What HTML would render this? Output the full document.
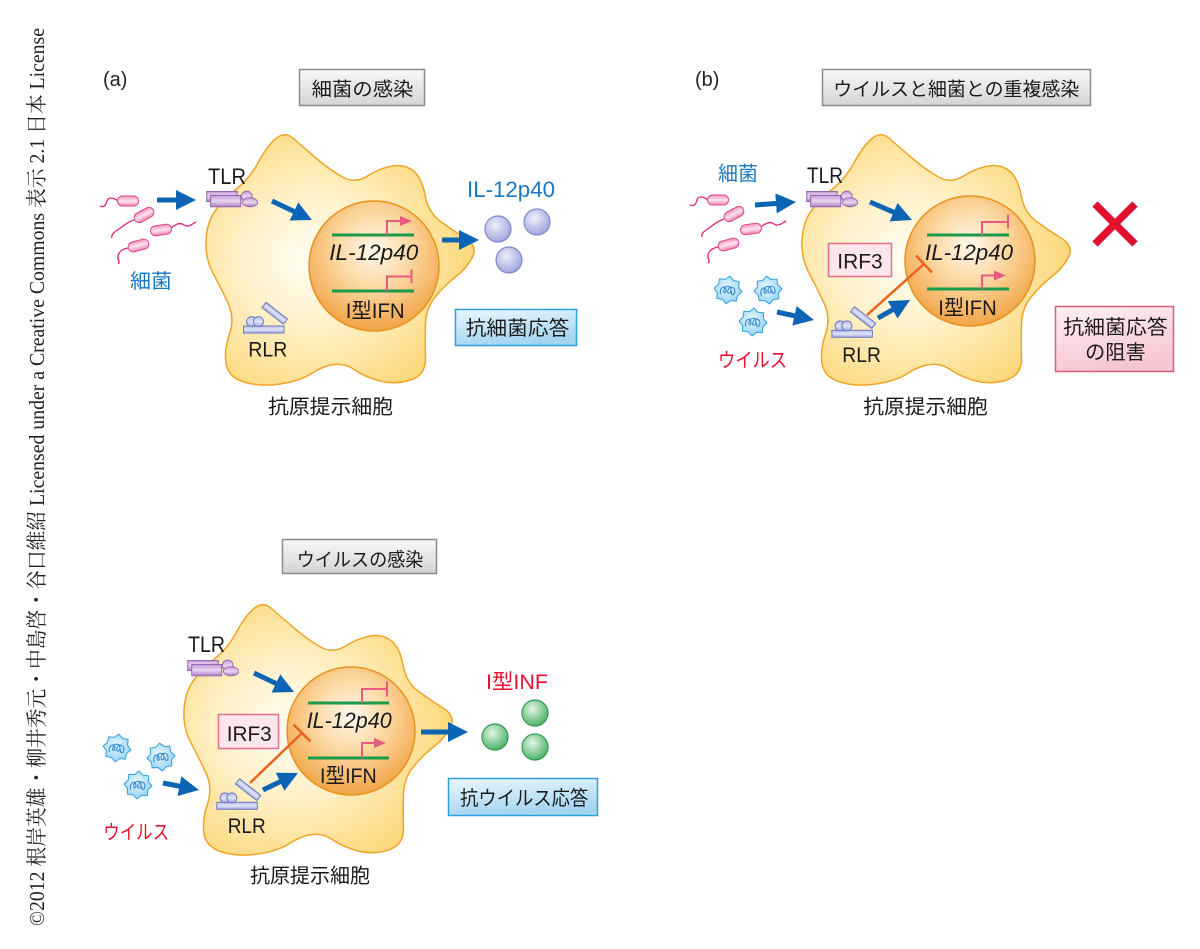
<!DOCTYPE html>
<html><head><meta charset="utf-8">
<style>
html,body{margin:0;padding:0;background:#fff;}
svg{display:block;}
</style></head><body>
<svg width="1200" height="949" viewBox="0 0 1200 949" xmlns="http://www.w3.org/2000/svg" xmlns:xlink="http://www.w3.org/1999/xlink">
<defs>
 <radialGradient id="cellG" cx="0.4" cy="0.5" r="0.62">
  <stop offset="0" stop-color="#fffdf5"/>
  <stop offset="0.45" stop-color="#fff0c6"/>
  <stop offset="1" stop-color="#fcd674"/>
 </radialGradient>
 <radialGradient id="nucG" cx="0.5" cy="0.38" r="0.62">
  <stop offset="0" stop-color="#fff7ec"/>
  <stop offset="0.45" stop-color="#fcd9a4"/>
  <stop offset="1" stop-color="#f2a446"/>
 </radialGradient>
 <linearGradient id="titleG" x1="0" y1="0" x2="0" y2="1">
  <stop offset="0" stop-color="#f8f8f8"/>
  <stop offset="1" stop-color="#d4d4d4"/>
 </linearGradient>
 <linearGradient id="blueG" x1="0" y1="0" x2="0.3" y2="1">
  <stop offset="0" stop-color="#ebf7fd"/>
  <stop offset="1" stop-color="#a3d5f1"/>
 </linearGradient>
 <linearGradient id="pinkG" x1="0" y1="0" x2="0.3" y2="1">
  <stop offset="0" stop-color="#fdf0f3"/>
  <stop offset="1" stop-color="#f7c6d3"/>
 </linearGradient>
 <linearGradient id="tlrG" x1="0" y1="0" x2="0" y2="1">
  <stop offset="0" stop-color="#c49dd7"/>
  <stop offset="0.5" stop-color="#e8d5f0"/>
  <stop offset="1" stop-color="#ad80c5"/>
 </linearGradient>
 <linearGradient id="rlrG" x1="0" y1="0" x2="0" y2="1">
  <stop offset="0" stop-color="#b6bdeb"/>
  <stop offset="0.5" stop-color="#e0e4f8"/>
  <stop offset="1" stop-color="#a2abdf"/>
 </linearGradient>
 <linearGradient id="bactG" x1="0" y1="0" x2="0" y2="1">
  <stop offset="0" stop-color="#f293bb"/>
  <stop offset="0.5" stop-color="#fde4ef"/>
  <stop offset="1" stop-color="#ee86b1"/>
 </linearGradient>
 <radialGradient id="virG" cx="0.45" cy="0.4" r="0.6">
  <stop offset="0" stop-color="#eaf8fe"/>
  <stop offset="1" stop-color="#96d2f2"/>
 </radialGradient>
 <radialGradient id="lavG" cx="0.4" cy="0.35" r="0.65">
  <stop offset="0" stop-color="#eef0fb"/>
  <stop offset="1" stop-color="#a0a7dc"/>
 </radialGradient>
 <radialGradient id="grnG" cx="0.4" cy="0.35" r="0.65">
  <stop offset="0" stop-color="#e4f6e8"/>
  <stop offset="1" stop-color="#4fb46a"/>
 </radialGradient>
 <marker id="ah" viewBox="0 0 20 20" refX="10" refY="10" markerWidth="20" markerHeight="20" markerUnits="userSpaceOnUse" orient="auto">
  <path d="M0,0 L20,10 L0,20 z" fill="#0b64b4"/>
 </marker>

 <path id="cell" d="M276,138.5 Q285,131 293.5,138.5 Q302,146 316,158 Q330,170 342.5,177 Q355,184 367.5,176 Q380,168 392.5,166 Q405,164 413.5,171 Q422,178 425,195 Q428,212 440,221 Q452,230 465,238 Q478,246 472.5,257 Q467,268 456,276.5 Q445,285 435.5,296.5 Q426,308 425.5,324 Q425,340 425.5,357.5 Q426,375 410.5,380 Q395,385 380,381 Q365,377 355,370 Q345,363 334,364.5 Q323,366 311.5,373.5 Q300,381 280,384 Q260,387 244,382 Q228,377 226,363.5 Q224,350 229.5,334 Q235,318 228,303 Q221,288 213,273 Q205,258 206,240 Q207,222 215.5,210.5 Q224,199 237,188.5 Q250,178 258.5,162 Q267,146 276,138.5 Z"/>

 <g id="tlr" stroke="#9866b0" stroke-width="1" fill="url(#tlrG)">
  <rect x="0.7" y="0.5" width="30.6" height="10"/>
  <rect x="4.7" y="4.5" width="30" height="11.3"/>
  <circle cx="40.7" cy="5.5" r="5.4"/>
  <ellipse cx="44" cy="11.3" rx="7.5" ry="4.5"/>
 </g>

 <g id="rlr" stroke="#6f78c2" stroke-width="1" fill="url(#rlrG)">
  <rect x="0.5" y="25" width="40.5" height="7"/>
  <circle cx="8.7" cy="20.6" r="5"/>
  <circle cx="15.5" cy="20.6" r="5"/>
  <rect x="-13.5" y="-3.3" width="27" height="6.6" transform="translate(31.7,12.3) rotate(38)"/>
 </g>

 <g id="virus">
  <polygon points="14,0 10.16,4.21 9.9,9.9 4.21,10.16 0,14 -4.21,10.16 -9.9,9.9 -10.16,4.21 -14,0 -10.16,-4.21 -9.9,-9.9 -4.21,-10.16 0,-14 4.21,-10.16 9.9,-9.9 10.16,-4.21" fill="url(#virG)" stroke="#2fa0e0" stroke-width="1" stroke-linejoin="round"/>
  <path d="M-7,5 C-9,-2 -3,-5 -2,0 C-1,4 -5,4 -4,0 C-3,-5 3,-5 3,0 C3,4 -1,4 0,0 C1,-5 7,-4 7,1 C7,5 3,5 4,1" fill="none" stroke="#2a86d0" stroke-width="1.1"/>
 </g>

 <g id="bacts">
  <g fill="none" stroke="#e0207e" stroke-width="1.3">
   <path d="M118,201 C113,197 108,197 107,201 C106,205 104,208 100,206"/>
   <path d="M134,220 C127,222 121,228 116,231 C113,233 111,236 112,238"/>
   <path d="M171,228 C176,224 180,222 184,225 C188,228 192,224 196,222"/>
   <path d="M128,248 C122,249 119,252 118,256 C117,260 121,262 118,264"/>
  </g>
  <g fill="url(#bactG)" stroke="#e0448a" stroke-width="1">
   <rect x="-10.5" y="-5" width="21" height="10" rx="5" transform="translate(128,201)"/>
   <rect x="-10.5" y="-5" width="21" height="10" rx="5" transform="translate(144,215) rotate(-28)"/>
   <rect x="-10.5" y="-5" width="21" height="10" rx="5" transform="translate(161,230) rotate(-8)"/>
   <rect x="-10.5" y="-5" width="21" height="10" rx="5" transform="translate(138.5,245.5) rotate(-15)"/>
  </g>
 </g>
</defs>

<rect width="1200" height="949" fill="#fff"/>

<!-- copyright vertical -->
<text transform="translate(44,926) rotate(-90)" font-family="'Liberation Serif','Noto Serif CJK SC',serif" font-size="21" textLength="898" lengthAdjust="spacingAndGlyphs" fill="#222">©2012 根岸英雄・柳井秀元・中島啓・谷口維紹 Licensed under a Creative Commons 表示 2.1 日本 License</text>

<!-- ================= (a) ================= -->
<text x="103" y="86" font-family="'Liberation Sans',sans-serif" font-size="20" fill="#222">(a)</text>
<rect x="299.5" y="69.5" width="125" height="36" fill="url(#titleG)" stroke="#8c8c8c" stroke-width="1.5"/>
<text x="311.7" y="95.4" font-family="'Liberation Sans','Noto Sans CJK JP',sans-serif" font-size="19" textLength="101.7" lengthAdjust="spacingAndGlyphs" fill="#1a1a1a">細菌の感染</text>

<use xlink:href="#cell" href="#cell" fill="url(#cellG)" stroke="#f0a428" stroke-width="1.5"/>
<circle cx="374" cy="266" r="65" fill="url(#nucG)" stroke="#e8921c" stroke-width="1.5"/>
<g stroke="#1a9a4a" stroke-width="3">
 <line x1="332" y1="235" x2="414" y2="235"/>
 <line x1="332" y1="291" x2="414" y2="291"/>
</g>
<g fill="none" stroke="#e85a80" stroke-width="2">
 <path d="M387,235 V221 H402"/>
 <path d="M387,291 V276.5 H411.5"/>
 <line x1="411.5" y1="269.5" x2="411.5" y2="283"/>
</g>
<path d="M400,216 L412,221 L400,226 z" fill="#e85a80"/>
<text x="329.3" y="260" font-family="'Liberation Sans',sans-serif" font-style="italic" font-size="22" textLength="89" lengthAdjust="spacingAndGlyphs" fill="#1a1a1a">IL-12p40</text>
<text x="345.7" y="318" font-family="'Liberation Sans','Noto Sans CJK JP',sans-serif" font-size="21" textLength="59" lengthAdjust="spacingAndGlyphs" fill="#1a1a1a">I型IFN</text>

<text x="208" y="184" font-family="'Liberation Sans',sans-serif" font-size="22" textLength="38" lengthAdjust="spacingAndGlyphs" fill="#1a1a1a">TLR</text>
<use xlink:href="#tlr" href="#tlr" transform="translate(206,191)"/>
<use xlink:href="#rlr" href="#rlr" transform="translate(243,301)"/>
<text x="248.3" y="356.5" font-family="'Liberation Sans',sans-serif" font-size="21" textLength="39" lengthAdjust="spacingAndGlyphs" fill="#1a1a1a">RLR</text>
<text x="268" y="413.5" font-family="'Liberation Sans','Noto Sans CJK JP',sans-serif" font-size="20" textLength="125" lengthAdjust="spacingAndGlyphs" fill="#1a1a1a">抗原提示細胞</text>

<use xlink:href="#bacts" href="#bacts"/>
<text x="130" y="288" font-family="'Liberation Sans','Noto Sans CJK JP',sans-serif" font-size="20" textLength="42" lengthAdjust="spacingAndGlyphs" fill="#1a78c2">細菌</text>

<g stroke="#0b64b4" stroke-width="5" marker-end="url(#ah)">
 <line x1="157" y1="200" x2="186" y2="200"/>
 <line x1="272" y1="201" x2="303" y2="215.7"/>
 <line x1="442" y1="240" x2="469" y2="240"/>
</g>

<text x="467" y="197" font-family="'Liberation Sans',sans-serif" font-size="22" textLength="88" lengthAdjust="spacingAndGlyphs" fill="#1a78c2">IL-12p40</text>
<g fill="url(#lavG)" stroke="#7f88c8" stroke-width="1.2">
 <circle cx="498" cy="229" r="13"/>
 <circle cx="537" cy="222" r="13"/>
 <circle cx="509" cy="260" r="13"/>
</g>
<rect x="455.5" y="309.5" width="121" height="36" fill="url(#blueG)" stroke="#2c9fdf" stroke-width="1.5"/>
<text x="465.7" y="335" font-family="'Liberation Sans','Noto Sans CJK JP',sans-serif" font-size="20" textLength="103.6" lengthAdjust="spacingAndGlyphs" fill="#1a1a1a">抗細菌応答</text>

<!-- ================= (b) ================= -->
<text x="695" y="86" font-family="'Liberation Sans',sans-serif" font-size="20" fill="#222">(b)</text>
<rect x="822.5" y="69.5" width="268" height="36" fill="url(#titleG)" stroke="#8c8c8c" stroke-width="1.5"/>
<text x="833.3" y="95.4" font-family="'Liberation Sans','Noto Sans CJK JP',sans-serif" font-size="19" textLength="246" lengthAdjust="spacingAndGlyphs" fill="#1a1a1a">ウイルスと細菌との重複感染</text>

<use xlink:href="#cell" href="#cell" transform="translate(596,0)" fill="url(#cellG)" stroke="#f0a428" stroke-width="1.5"/>
<circle cx="970" cy="261" r="65" fill="url(#nucG)" stroke="#e8921c" stroke-width="1.5"/>
<g stroke="#1a9a4a" stroke-width="3">
 <line x1="927" y1="235" x2="1009" y2="235"/>
 <line x1="927" y1="289" x2="1009" y2="289"/>
</g>
<g fill="none" stroke="#e85a80" stroke-width="2">
 <path d="M982,235 V222 H1008"/>
 <line x1="1008" y1="214.5" x2="1008" y2="228.5"/>
 <path d="M982,289 V275.5 H996"/>
</g>
<path d="M994,270.5 L1006,275.5 L994,280.5 z" fill="#e85a80"/>
<text x="925" y="260" font-family="'Liberation Sans',sans-serif" font-style="italic" font-size="22" textLength="88" lengthAdjust="spacingAndGlyphs" fill="#1a1a1a">IL-12p40</text>
<text x="938.3" y="315" font-family="'Liberation Sans','Noto Sans CJK JP',sans-serif" font-size="21" textLength="58.4" lengthAdjust="spacingAndGlyphs" fill="#1a1a1a">I型IFN</text>

<rect x="828.5" y="243.5" width="63" height="33" fill="#fde6eb" stroke="#e2708c" stroke-width="1.5"/>
<text x="837.3" y="268.3" font-family="'Liberation Sans',sans-serif" font-size="21" textLength="45.4" lengthAdjust="spacingAndGlyphs" fill="#1a1a1a">IRF3</text>

<text x="807" y="183" font-family="'Liberation Sans',sans-serif" font-size="22" textLength="36" lengthAdjust="spacingAndGlyphs" fill="#1a1a1a">TLR</text>
<use xlink:href="#tlr" href="#tlr" transform="translate(806,191)"/>
<use xlink:href="#rlr" href="#rlr" transform="translate(831.4,305.3)"/>
<text x="842.3" y="362" font-family="'Liberation Sans',sans-serif" font-size="21" textLength="38.7" lengthAdjust="spacingAndGlyphs" fill="#1a1a1a">RLR</text>
<text x="863.3" y="413.5" font-family="'Liberation Sans','Noto Sans CJK JP',sans-serif" font-size="20" textLength="124.4" lengthAdjust="spacingAndGlyphs" fill="#1a1a1a">抗原提示細胞</text>

<!-- orange inhibition b -->
<g stroke="#e8641c" stroke-width="2.5" fill="none">
 <line x1="867" y1="315" x2="924" y2="264"/>
 <line x1="916" y1="255.5" x2="932" y2="272.5"/>
</g>

<use xlink:href="#bacts" href="#bacts" transform="translate(590,-1)"/>
<text x="718" y="180.5" font-family="'Liberation Sans','Noto Sans CJK JP',sans-serif" font-size="20" textLength="40" lengthAdjust="spacingAndGlyphs" fill="#1a78c2">細菌</text>

<use xlink:href="#virus" href="#virus" transform="translate(728,290) rotate(8)"/>
<use xlink:href="#virus" href="#virus" transform="translate(768,290) rotate(-6)"/>
<use xlink:href="#virus" href="#virus" transform="translate(753,322) rotate(4)"/>
<text x="718" y="367" font-family="'Liberation Sans','Noto Sans CJK JP',sans-serif" font-size="20" textLength="69" lengthAdjust="spacingAndGlyphs" fill="#e8102e">ウイルス</text>

<g stroke="#0b64b4" stroke-width="5" marker-end="url(#ah)">
 <line x1="755" y1="205" x2="786" y2="202.7"/>
 <line x1="870" y1="202" x2="902.8" y2="216.1"/>
 <line x1="777" y1="312" x2="804.2" y2="317.9"/>
 <line x1="878" y1="318" x2="901.3" y2="304.9"/>
</g>

<g stroke="#e0102e" stroke-width="7.5" stroke-linecap="butt">
 <line x1="1095" y1="204" x2="1135" y2="244"/>
 <line x1="1135" y1="204" x2="1095" y2="244"/>
</g>

<rect x="1055.5" y="306.5" width="118" height="65" fill="url(#pinkG)" stroke="#e05a7e" stroke-width="1.5"/>
<text x="1063.3" y="334" font-family="'Liberation Sans','Noto Sans CJK JP',sans-serif" font-size="20" textLength="104.4" lengthAdjust="spacingAndGlyphs" fill="#1a1a1a">抗細菌応答</text>
<text x="1085" y="359" font-family="'Liberation Sans','Noto Sans CJK JP',sans-serif" font-size="20" textLength="60.7" lengthAdjust="spacingAndGlyphs" fill="#1a1a1a">の阻害</text>

<!-- ================= bottom ================= -->
<rect x="282.5" y="539.5" width="154" height="34" fill="url(#titleG)" stroke="#8c8c8c" stroke-width="1.5"/>
<text x="296.7" y="566" font-family="'Liberation Sans','Noto Sans CJK JP',sans-serif" font-size="19" textLength="126.7" lengthAdjust="spacingAndGlyphs" fill="#1a1a1a">ウイルスの感染</text>

<use xlink:href="#cell" href="#cell" transform="translate(-22,470)" fill="url(#cellG)" stroke="#f0a428" stroke-width="1.5"/>
<circle cx="351" cy="731" r="64" fill="url(#nucG)" stroke="#e8921c" stroke-width="1.5"/>
<g stroke="#1a9a4a" stroke-width="3">
 <line x1="308" y1="703" x2="389" y2="703"/>
 <line x1="308" y1="758" x2="389" y2="758"/>
</g>
<g fill="none" stroke="#e85a80" stroke-width="2">
 <path d="M362,703 V689 H387"/>
 <line x1="387" y1="681.5" x2="387" y2="696.5"/>
 <path d="M362,758 V743 H376"/>
</g>
<path d="M374,738 L386,743 L374,748 z" fill="#e85a80"/>
<text x="306.7" y="728" font-family="'Liberation Sans',sans-serif" font-style="italic" font-size="22" textLength="85" lengthAdjust="spacingAndGlyphs" fill="#1a1a1a">IL-12p40</text>
<text x="320" y="783" font-family="'Liberation Sans','Noto Sans CJK JP',sans-serif" font-size="21" textLength="56.7" lengthAdjust="spacingAndGlyphs" fill="#1a1a1a">I型IFN</text>

<rect x="218.5" y="714.5" width="60" height="34" fill="#fde6eb" stroke="#e2708c" stroke-width="1.5"/>
<text x="226.7" y="741" font-family="'Liberation Sans',sans-serif" font-size="21" textLength="45" lengthAdjust="spacingAndGlyphs" fill="#1a1a1a">IRF3</text>

<text x="188" y="652" font-family="'Liberation Sans',sans-serif" font-size="22" textLength="37" lengthAdjust="spacingAndGlyphs" fill="#1a1a1a">TLR</text>
<use xlink:href="#tlr" href="#tlr" transform="translate(187,660)"/>
<use xlink:href="#rlr" href="#rlr" transform="translate(216.4,777.3)"/>
<text x="227.7" y="833" font-family="'Liberation Sans',sans-serif" font-size="21" textLength="38" lengthAdjust="spacingAndGlyphs" fill="#1a1a1a">RLR</text>
<text x="250" y="882.5" font-family="'Liberation Sans','Noto Sans CJK JP',sans-serif" font-size="20" textLength="120" lengthAdjust="spacingAndGlyphs" fill="#1a1a1a">抗原提示細胞</text>

<g stroke="#e8641c" stroke-width="2.5" fill="none">
 <line x1="250" y1="783" x2="302" y2="733"/>
 <line x1="293.5" y1="724.5" x2="310.5" y2="741.5"/>
</g>

<use xlink:href="#virus" href="#virus" transform="translate(117,748) rotate(8)"/>
<use xlink:href="#virus" href="#virus" transform="translate(161,757) rotate(-6)"/>
<use xlink:href="#virus" href="#virus" transform="translate(138,785) rotate(4)"/>
<text x="103.3" y="839" font-family="'Liberation Sans','Noto Sans CJK JP',sans-serif" font-size="20" textLength="65.7" lengthAdjust="spacingAndGlyphs" fill="#e8102e">ウイルス</text>

<g stroke="#0b64b4" stroke-width="5" marker-end="url(#ah)">
 <line x1="254" y1="673" x2="285" y2="687.7"/>
 <line x1="163" y1="783" x2="189.2" y2="788.1"/>
 <line x1="263" y1="790" x2="289" y2="777.4"/>
 <line x1="421" y1="732" x2="458" y2="732"/>
</g>

<text x="486" y="689" font-family="'Liberation Sans','Noto Sans CJK JP',sans-serif" font-size="21" textLength="62" lengthAdjust="spacingAndGlyphs" fill="#e8102e">I型INF</text>
<g fill="url(#grnG)" stroke="#2f9a50" stroke-width="1.2">
 <circle cx="495" cy="737" r="13"/>
 <circle cx="535" cy="713" r="13"/>
 <circle cx="535" cy="747" r="13"/>
</g>
<rect x="448.5" y="778.5" width="149" height="37" fill="url(#blueG)" stroke="#2c9fdf" stroke-width="1.5"/>
<text x="460" y="805" font-family="'Liberation Sans','Noto Sans CJK JP',sans-serif" font-size="20" textLength="128.3" lengthAdjust="spacingAndGlyphs" fill="#1a1a1a">抗ウイルス応答</text>

</svg>
</body></html>
